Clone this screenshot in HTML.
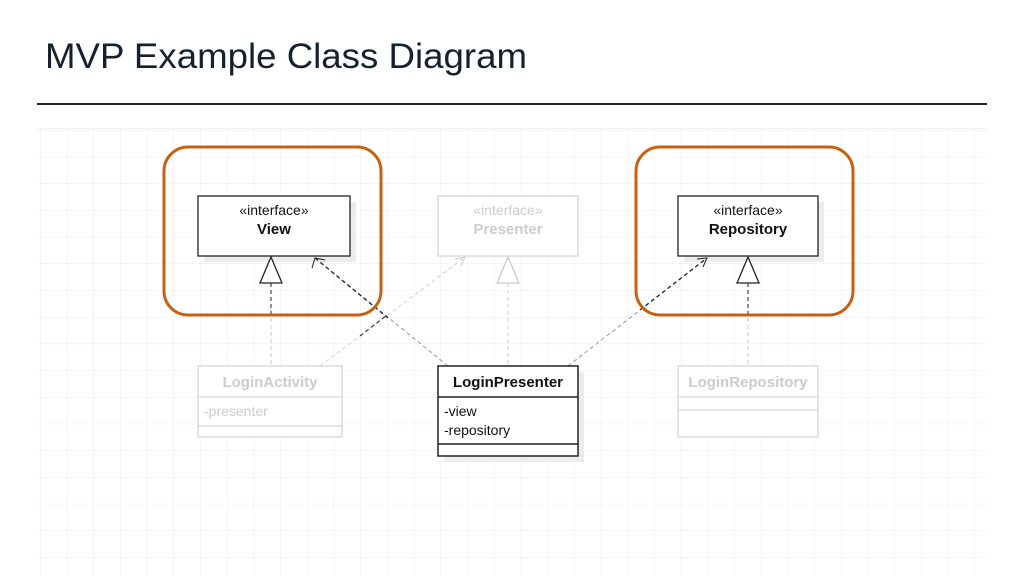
<!DOCTYPE html>
<html><head><meta charset="utf-8"><style>
html,body{margin:0;padding:0;background:#fff;width:1024px;height:576px;overflow:hidden}
</style></head><body>
<svg width="1024" height="576" xmlns="http://www.w3.org/2000/svg" font-family="Liberation Sans, sans-serif">
<defs>
<pattern id="g" x="40" y="130" width="26.7" height="26.7" patternUnits="userSpaceOnUse">
<path d="M0 0H26.7M0 0V26.7" stroke="#ebebeb" stroke-width="1" fill="none"/>
</pattern>
</defs>
<text x="45" y="68" font-size="35" fill="#16212e" textLength="482" lengthAdjust="spacingAndGlyphs">MVP Example Class Diagram</text>
<rect x="37" y="103" width="950" height="2" fill="#1d232b"/>
<rect x="37" y="128" width="950" height="448" fill="url(#g)"/>
<rect x="37" y="128" width="950" height="1" fill="#f0f0f0"/>

<!-- shadows -->
<rect x="204" y="202" width="152" height="60" fill="#ececec"/>
<rect x="684" y="202" width="140" height="60" fill="#ececec"/>
<rect x="444" y="372" width="140" height="90" fill="#ececec"/>

<!-- connectors -->
<g fill="none" stroke-dasharray="4,3">
<line x1="271" y1="283" x2="271" y2="366" stroke="#c8c8c8"/>
<line x1="271" y1="283" x2="271" y2="315" stroke="#222"/>
<line x1="320" y1="366" x2="465" y2="257" stroke="#cfcfcf"/>
<line x1="360" y1="336" x2="387" y2="315" stroke="#222"/>
<line x1="448" y1="366" x2="315" y2="258" stroke="#999"/>
<line x1="315" y1="258" x2="388" y2="318" stroke="#222" stroke-width="1.3"/>
<line x1="508" y1="283" x2="508" y2="366" stroke="#cfcfcf"/>
<line x1="568" y1="366" x2="707" y2="258" stroke="#999"/>
<line x1="640" y1="310" x2="707" y2="258" stroke="#222" stroke-width="1.3"/>
<line x1="748" y1="283" x2="748" y2="366" stroke="#c8c8c8"/>
<line x1="748" y1="283" x2="748" y2="315" stroke="#222"/>
</g>
<path d="M312 268 L315 258 L325 260" fill="none" stroke="#222"/>
<path d="M455 259 L465 257 L461 266" fill="none" stroke="#ccc"/>
<path d="M697 259 L707 258 L703 267" fill="none" stroke="#222"/>

<!-- triangles -->
<path d="M271 257 L260 283 L282 283 Z" fill="#fff" stroke="#222" stroke-width="1.3"/>
<path d="M508 257 L497 283 L519 283 Z" fill="#fff" stroke="#ccc" stroke-width="1.3"/>
<path d="M748 257 L737 283 L759 283 Z" fill="#fff" stroke="#222" stroke-width="1.3"/>

<!-- interfaces -->
<rect x="198" y="196" width="152" height="60" fill="#fff" stroke="#222" stroke-width="1.3"/>
<text x="274" y="215" font-size="14" text-anchor="middle" fill="#111">«interface»</text>
<text x="274" y="234" font-size="15" font-weight="bold" text-anchor="middle" fill="#111">View</text>

<rect x="438" y="196" width="140" height="60" fill="#fff" stroke="#d5d5d5" stroke-width="1.3"/>
<text x="508" y="215" font-size="14" text-anchor="middle" fill="#ccc">«interface»</text>
<text x="508" y="234" font-size="15" font-weight="bold" text-anchor="middle" fill="#ccc">Presenter</text>

<rect x="678" y="196" width="140" height="60" fill="#fff" stroke="#222" stroke-width="1.3"/>
<text x="748" y="215" font-size="14" text-anchor="middle" fill="#111">«interface»</text>
<text x="748" y="234" font-size="15" font-weight="bold" text-anchor="middle" fill="#111">Repository</text>

<!-- classes -->
<g stroke="#d5d5d5" stroke-width="1.3" fill="#fff">
<rect x="198" y="366" width="144" height="71"/>
<line x1="198" y1="397" x2="342" y2="397"/>
<line x1="198" y1="426" x2="342" y2="426"/>
<rect x="678" y="366" width="140" height="71"/>
<line x1="678" y1="397" x2="818" y2="397"/>
<line x1="678" y1="410" x2="818" y2="410"/>
</g>
<text x="270" y="387" font-size="15" font-weight="bold" text-anchor="middle" fill="#ccc">LoginActivity</text>
<text x="204" y="416" font-size="14" fill="#ccc">-presenter</text>
<text x="748" y="387" font-size="15" font-weight="bold" text-anchor="middle" fill="#ccc">LoginRepository</text>

<g stroke="#222" stroke-width="1.5" fill="#fff">
<rect x="438" y="366" width="140" height="90"/>
<line x1="438" y1="397" x2="578" y2="397"/>
<line x1="438" y1="444" x2="578" y2="444"/>
</g>
<text x="508" y="387" font-size="15" font-weight="bold" text-anchor="middle" fill="#111">LoginPresenter</text>
<text x="444" y="416" font-size="14" fill="#111">-view</text>
<text x="444" y="435" font-size="14" fill="#111">-repository</text>

<!-- highlights -->
<rect x="164" y="147" width="217" height="168" rx="24" fill="none" stroke="#c8600f" stroke-width="3"/>
<rect x="636" y="147" width="217" height="168" rx="24" fill="none" stroke="#c8600f" stroke-width="3"/>
</svg>
</body></html>
